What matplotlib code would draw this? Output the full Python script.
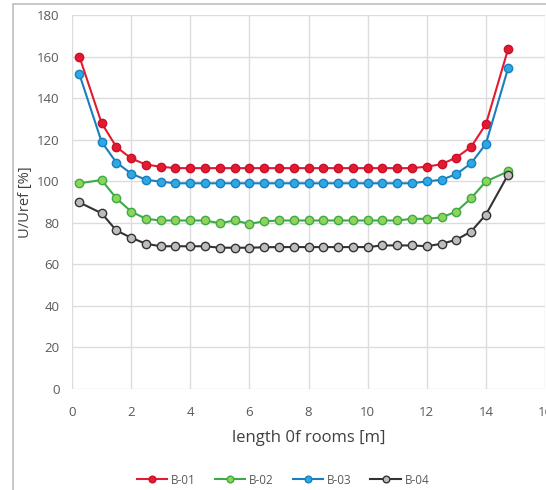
import matplotlib
matplotlib.use("Agg")
import matplotlib.pyplot as plt
from matplotlib.patches import Rectangle

plt.rcParams['font.family'] = ['Open Sans', 'DejaVu Sans']

x = [0.25, 1.0, 1.5, 2.0, 2.5, 3.0, 3.5, 4.0, 4.5, 5.0, 5.5, 6.0, 6.5, 7.0, 7.5,
     8.0, 8.5, 9.0, 9.5, 10.0, 10.5, 11.0, 11.5, 12.0, 12.5, 13.0, 13.5, 14.0, 14.75]

b01 = [160.0, 128.0, 116.5, 111.0, 108.0, 107.0, 106.3, 106.3, 106.3, 106.3, 106.3, 106.3,
       106.3, 106.3, 106.3, 106.3, 106.3, 106.3, 106.3, 106.3, 106.3, 106.3, 106.3,
       107.0, 108.2, 111.4, 116.5, 127.4, 163.5]
b02 = [99.0, 100.6, 91.8, 85.4, 81.9, 81.1, 81.1, 81.1, 81.1, 79.8, 81.1, 79.5, 80.7,
       81.1, 81.1, 81.1, 81.1, 81.1, 81.1, 81.1, 81.1, 81.1, 81.9, 81.9, 82.6, 85.4,
       91.8, 99.9, 104.7]
b03 = [151.5, 119.0, 109.0, 103.7, 100.7, 99.8, 99.0, 99.0, 99.0, 99.0, 99.0, 99.0,
       99.0, 99.0, 99.0, 99.0, 99.0, 99.0, 99.0, 99.0, 99.0, 99.0, 99.0,
       99.9, 100.7, 103.4, 108.6, 118.0, 154.3]
b04 = [89.8, 84.6, 76.3, 72.8, 69.9, 68.7, 68.7, 68.7, 68.7, 68.0, 68.0, 68.0, 68.2,
       68.3, 68.3, 68.3, 68.3, 68.3, 68.3, 68.3, 69.1, 69.1, 69.1, 68.7, 69.9, 71.8,
       75.8, 83.9, 103.1]

labels = ['B-01', 'B-02', 'B-03', 'B-04']
xticks = [0, 2, 4, 6, 8, 10, 12, 14, 16]
yticks = [0, 20, 40, 60, 80, 100, 120, 140, 160, 180]

W, H = 546, 490
fig = plt.figure(figsize=(W / 100, H / 100), dpi=100)
fig.patch.set_facecolor('white')

# chart area border
fig.add_artist(Rectangle((13 / W, -0.1), 1.2, 1 - 4 / H + 0.1, transform=fig.transFigure,
                         fill=False, edgecolor='#BFBFBF', linewidth=1.2))

ax = fig.add_axes([72 / W, 1 - 389 / H, (545 - 72) / W, (389 - 15) / H])
ax.set_xlim(0, 16)
ax.set_ylim(0, 180)
ax.set_xticks(xticks)
ax.set_yticks(yticks)
ax.grid(True, color='#DCDCDC', linewidth=1.0)
ax.set_axisbelow(True)
for s in ax.spines.values():
    s.set_visible(False)
ax.tick_params(axis='y', length=0, labelsize=9.5, colors='#595959', pad=9)
ax.tick_params(axis='x', length=0, labelsize=9.5, colors='#595959', pad=12)

styles = [
    dict(color='#E31B2F', mfc='#E31B2F', mec='#C8102E'),
    dict(color='#3DAA48', mfc='#8ED35A', mec='#3DAA48'),
    dict(color='#1A7FBF', mfc='#2FA8E2', mec='#1A7FBF'),
    dict(color='#333333', mfc='#BDBDBD', mec='#333333'),
]
for ys, lab, st in zip([b01, b02, b03, b04], labels, styles):
    ax.plot(x, ys, '-o', color=st['color'], lw=1.5, markersize=6.0,
            markerfacecolor=st['mfc'], markeredgecolor=st['mec'], markeredgewidth=1.0,
            label=lab, clip_on=False)

ax.set_xlabel('length 0f rooms [m]', fontsize=12, color='#404040', labelpad=8)
ax.set_ylabel('U/Uref [%]', fontsize=10.5, color='#404040', va='center', ha='center')
ax.yaxis.set_label_coords((26 - 72) / 473, 0.5)

leg = fig.legend(loc='center', bbox_to_anchor=(283 / W, 1 - 480 / H), ncol=4, frameon=False,
                 fontsize=8.5, handlelength=2.6, columnspacing=1.6, handletextpad=0.3,
                 markerscale=0.8)
for t in leg.get_texts():
    t.set_color('#595959')

fig.savefig('out.png', dpi=100)
